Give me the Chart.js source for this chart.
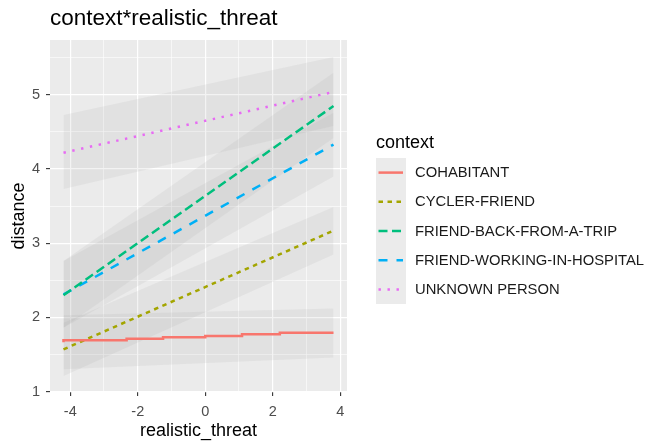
<!DOCTYPE html>
<html>
<head>
<meta charset="utf-8">
<script src="https://cdn.jsdelivr.net/npm/chart.js@4/dist/chart.umd.min.js"></script>
<style>
  html, body { margin: 0; padding: 0; background: #ffffff; }
  #wrap { width: 652px; height: 443px; position: relative; }
</style>
</head>
<body>
<div id="wrap"><canvas id="c" width="652" height="443"></canvas></div>
<script>
// ---------- data ----------
const categories = ['COHABITANT', 'CYCLER-FRIEND', 'FRIEND-BACK-FROM-A-TRIP', 'FRIEND-WORKING-IN-HOSPITAL', 'UNKNOWN PERSON'];
const colors = ['#F8766D', '#A3A500', '#00BF7D', '#00B0F6', '#E76BF3'];

// straight fitted lines: values at the two ends of the x range
const lineX = [-4.2, 3.8];
const cyclerY = [1.57, 3.17];
const friendTripY = [2.30, 4.85];
const hospitalY = [2.31, 4.33];
const unknownY = [4.22, 5.04];

// cohabitant line is drawn as small steps
const cohabX = [-4.2, -2.33, -1.25, 0.0, 1.09, 2.21, 3.46, 3.8];
const cohabY = [1.665, 1.692, 1.714, 1.732, 1.75, 1.773, 1.795, 1.795];

// confidence bands (lower / upper at the two x ends)
const bandX = [-4.2, 3.8];
const cohabLow = [1.30, 1.46], cohabHigh = [2.03, 2.12];
const cyclerLow = [1.21, 2.85], cyclerHigh = [1.93, 3.49];
const tripLow = [1.86, 4.42], tripHigh = [2.76, 5.30];
const hospLow = [1.86, 3.90], hospHigh = [2.76, 4.76];
const unknownLow = [3.73, 4.58], unknownHigh = [4.73, 5.51];

// axis ticks
const xTicks = [-4, -3, -2, -1, 0, 1, 2, 3, 4];
const xLabels = [-4, -2, 0, 2, 4];
const yTicks = [1, 1.5, 2, 2.5, 3, 3.5, 4, 4.5, 5, 5.5];
const yLabels = [1, 2, 3, 4, 5];

// ---------- build ----------
const pts = (xs, ys) => xs.map((x, i) => ({ x: x, y: ys[i] }));
const dashes = [[], [4.5, 4.5], [9, 4.5], [9, 9], [2.4, 6.6]];
const LW = 2.5;

const lineSeries = [
  pts(cohabX, cohabY),
  pts(lineX, cyclerY),
  pts(lineX, friendTripY),
  pts(lineX, hospitalY),
  pts(lineX, unknownY)
];
const bands = [
  [cohabLow, cohabHigh], [cyclerLow, cyclerHigh], [tripLow, tripHigh],
  [hospLow, hospHigh], [unknownLow, unknownHigh]
];

const datasets = [];
lineSeries.forEach((d, i) => {
  datasets.push({
    label: categories[i],
    data: d,
    borderColor: colors[i],
    borderWidth: LW,
    borderDash: dashes[i],
    borderCapStyle: 'butt',
    pointRadius: 0,
    fill: false,
    tension: 0,
    stepped: i === 0 ? 'after' : false,
    order: 1
  });
});
bands.forEach((b, i) => {
  datasets.push({
    label: '_low' + i,
    data: pts(bandX, b[0]),
    borderWidth: 0,
    borderColor: 'rgba(0,0,0,0)',
    pointRadius: 0,
    fill: false,
    order: 10
  });
  datasets.push({
    label: '_high' + i,
    data: pts(bandX, b[1]),
    borderWidth: 0,
    borderColor: 'rgba(0,0,0,0)',
    backgroundColor: 'rgba(153,153,153,0.12)',
    pointRadius: 0,
    fill: '-1',
    order: 10
  });
});

const FONT = "'Liberation Sans', Arial, sans-serif";

const panelBg = {
  id: 'panelBg',
  beforeDraw(chart) {
    const a = chart.chartArea, ctx = chart.ctx;
    ctx.save();
    ctx.fillStyle = '#EBEBEB';
    ctx.fillRect(a.left, a.top, a.right - a.left, a.bottom - a.top);
    ctx.restore();
  }
};

const ggLegend = {
  id: 'ggLegend',
  afterDraw(chart) {
    const ctx = chart.ctx;
    ctx.save();
    ctx.fillStyle = '#000000';
    ctx.font = '18px ' + FONT;
    ctx.textBaseline = 'alphabetic';
    ctx.textAlign = 'left';
    ctx.fillText('context', 376, 148);
    const keyX = 376, keyW = 30, keyTop = 158, keyH = 29.2;
    ctx.fillStyle = '#EBEBEB';
    ctx.fillRect(keyX, keyTop, keyW, keyH * categories.length);
    categories.forEach((c, i) => {
      const cy = keyTop + keyH * (i + 0.5);
      ctx.beginPath();
      ctx.setLineDash(dashes[i]);
      ctx.lineDashOffset = 0;
      ctx.lineCap = 'butt';
      ctx.lineWidth = LW;
      ctx.strokeStyle = colors[i];
      ctx.moveTo(keyX + 2.5, cy);
      ctx.lineTo(keyX + keyW - 3, cy);
      ctx.stroke();
      ctx.setLineDash([]);
      ctx.fillStyle = '#1A1A1A';
      ctx.font = '14.8px ' + FONT;
      ctx.textBaseline = 'middle';
      ctx.fillText(c, 415, cy + 0.5);
    });
    ctx.restore();
  }
};

new Chart(document.getElementById('c'), {
  type: 'line',
  data: { datasets: datasets },
  plugins: [panelBg, ggLegend],
  options: {
    responsive: false,
    animation: false,
    devicePixelRatio: 1,
    layout: { padding: { top: 0, left: 0, right: 305, bottom: 0 } },
    plugins: {
      legend: { display: false },
      tooltip: { enabled: false },
      title: {
        display: true,
        text: 'context*realistic_threat',
        align: 'start',
        fullSize: false,
        color: '#000000',
        font: { family: FONT, size: 22.5, weight: 'normal', lineHeight: 1.2 },
        padding: { top: 5.4, bottom: 7.6 }
      }
    },
    scales: {
      x: {
        type: 'linear',
        min: -4.6,
        max: 4.2,
        afterBuildTicks: s => { s.ticks = xTicks.map(v => ({ value: v })); },
        afterFit: s => { s.height = 51; },
        border: { display: false },
        grid: {
          color: '#FFFFFF',
          lineWidth: c => (xLabels.includes(c.tick.value) ? 1.2 : 0.6),
          tickColor: c => (xLabels.includes(c.tick.value) ? '#333333' : 'rgba(0,0,0,0)'),
          tickLength: 4,
          tickWidth: 1.1,
          drawTicks: true
        },
        ticks: {
          autoSkip: false,
          maxRotation: 0,
          padding: 7,
          color: '#4D4D4D',
          font: { family: FONT, size: 14.5 },
          callback: v => (xLabels.includes(v) ? String(v) : '')
        },
        title: {
          display: true,
          text: 'realistic_threat',
          color: '#000000',
          font: { family: FONT, size: 18, lineHeight: 1.2 },
          padding: { top: 0, bottom: 1 }
        }
      },
      y: {
        type: 'linear',
        min: 0.995,
        max: 5.74,
        afterBuildTicks: s => { s.ticks = yTicks.map(v => ({ value: v })); },
        afterFit: s => { s.width = 50; },
        border: { display: false },
        grid: {
          color: '#FFFFFF',
          lineWidth: c => (yLabels.includes(c.tick.value) ? 1.2 : 0.6),
          tickColor: c => (yLabels.includes(c.tick.value) ? '#333333' : 'rgba(0,0,0,0)'),
          tickLength: 4,
          tickWidth: 1.1,
          drawTicks: true
        },
        ticks: {
          autoSkip: false,
          padding: 6,
          color: '#4D4D4D',
          font: { family: FONT, size: 14.5 },
          callback: v => (yLabels.includes(v) ? String(v) : '')
        },
        title: {
          display: true,
          text: 'distance',
          color: '#000000',
          font: { family: FONT, size: 18, lineHeight: 1.2 },
          padding: { top: 8, bottom: 0 }
        }
      }
    }
  }
});
</script>
</body>
</html>
